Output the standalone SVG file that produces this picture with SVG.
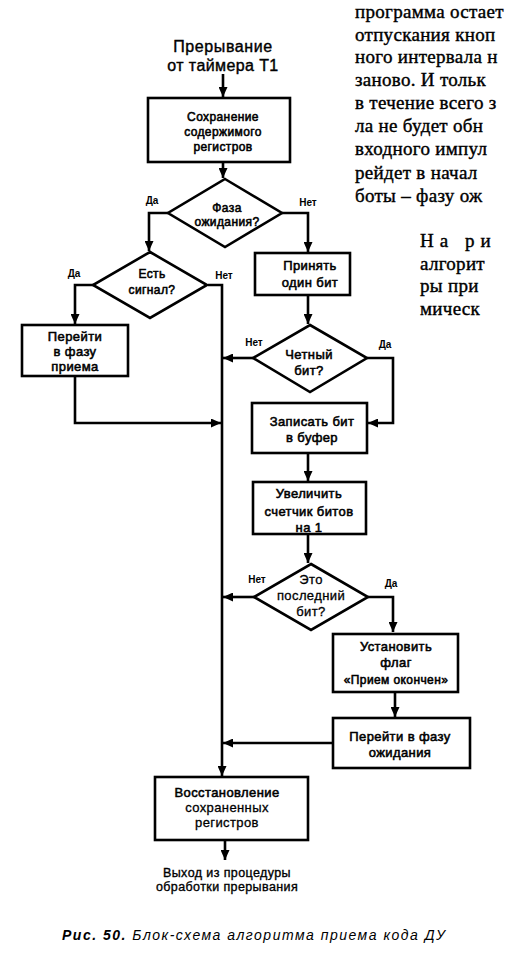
<svg xmlns="http://www.w3.org/2000/svg" width="507" height="969" viewBox="0 0 507 969">
<defs>
<style>
.bx{fill:#fff;stroke:#000;stroke-width:2.6}
.ln{fill:none;stroke:#000;stroke-width:2.6}
.t{font-family:"Liberation Sans",Arial,sans-serif;font-size:13px;font-weight:normal;text-anchor:middle;fill:#000;stroke:#000;stroke-width:0.55;letter-spacing:0.4px}
.s{font-family:"Liberation Sans",Arial,sans-serif;font-size:10px;font-weight:bold;text-anchor:middle;fill:#000}
.p{font-family:"Liberation Serif","Times New Roman",serif;font-size:19px;fill:#000;stroke:#000;stroke-width:0.4;letter-spacing:0.3px}
</style>
<marker id="ah" markerUnits="userSpaceOnUse" markerWidth="10" markerHeight="9" refX="10" refY="4.5" orient="auto">
<path d="M0,0 L10,4.5 L0,9 z" fill="#000"/>
</marker>
</defs>
<rect width="507" height="969" fill="#fff"/>

<g id="book-text">
<text class="p" x="355" y="18">программа остает</text>
<text class="p" x="355" y="41">отпускания кноп</text>
<text class="p" x="355" y="63">ного интервала н</text>
<text class="p" x="355" y="86">заново. И тольк</text>
<text class="p" x="355" y="109">в течение всего з</text>
<text class="p" x="355" y="132">ла не будет обн</text>
<text class="p" x="355" y="155">входного импул</text>
<text class="p" x="355" y="179">рейдет в начал</text>
<text class="p" x="355" y="202">боты – фазу ож</text>
<text class="p" x="420" y="247" style="letter-spacing:6px">На ри</text>
<text class="p" x="420" y="270">алгорит</text>
<text class="p" x="420" y="292">ры при</text>
<text class="p" x="420" y="315">мическ</text>
</g>

<g id="connectors">
<path class="ln" d="M223,74 V97" marker-end="url(#ah)"/>
<path class="ln" d="M223,162 V178" marker-end="url(#ah)"/>
<path class="ln" d="M168,213 H149 V251" marker-end="url(#ah)"/>
<path class="ln" d="M282,213 H308 V252" marker-end="url(#ah)"/>
<path class="ln" d="M95,285 H75 V324" marker-end="url(#ah)"/>
<path class="ln" d="M208,285 H222 V776" marker-end="url(#ah)"/>
<path class="ln" d="M75,376 V423 H221" marker-end="url(#ah)"/>
<path class="ln" d="M308,295 V324" marker-end="url(#ah)"/>
<path class="ln" d="M253,358 H223" marker-end="url(#ah)"/>
<path class="ln" d="M367,358 H393 V423 H368" marker-end="url(#ah)"/>
<path class="ln" d="M308,453 V481" marker-end="url(#ah)"/>
<path class="ln" d="M308,534 V563" marker-end="url(#ah)"/>
<path class="ln" d="M254,597 H223" marker-end="url(#ah)"/>
<path class="ln" d="M368,597 H393 V632" marker-end="url(#ah)"/>
<path class="ln" d="M395,692 V717" marker-end="url(#ah)"/>
<path class="ln" d="M333,743 H223" marker-end="url(#ah)"/>
<path class="ln" d="M225,840 V860" marker-end="url(#ah)"/>
<text class="s" x="152" y="204">Да</text>
<text class="s" x="308" y="206">Нет</text>
<text class="s" x="74" y="277">Да</text>
<text class="s" x="224" y="279">Нет</text>
<text class="s" x="254" y="346">Нет</text>
<text class="s" x="385" y="348">Да</text>
<text class="s" x="257" y="583">Нет</text>
<text class="s" x="391" y="587">Да</text>
</g>

<g id="start">
<text class="t" x="223" y="52" style="font-size:16px;stroke-width:0.4;letter-spacing:0.6px">Прерывание</text>
<text class="t" x="223" y="71" style="font-size:16px;stroke-width:0.4;letter-spacing:0.4px">от таймера Т1</text>
</g>

<g id="save">
<rect class="bx" x="148" y="98" width="142" height="64"/>
<text class="t" x="223" y="121" style="font-size:12px">Сохранение</text>
<text class="t" x="223" y="136" style="font-size:12px">содержимого</text>
<text class="t" x="223" y="151" style="font-size:12px">регистров</text>
</g>

<g id="wait-phase">
<polygon class="bx" points="225,179 282,213 225,247 168,213"/>
<text class="t" x="227" y="212" style="font-size:12px">Фаза</text>
<text class="t" x="227" y="226" style="font-size:12px">ожидания?</text>
</g>

<g id="signal">
<polygon class="bx" points="150,252 207,285 150,318 93,285"/>
<text class="t" x="152" y="278" style="font-size:12px">Есть</text>
<text class="t" x="152" y="294" style="font-size:12px">сигнал?</text>
</g>

<g id="to-receive">
<rect class="bx" x="22" y="325" width="106" height="51"/>
<text class="t" x="75" y="341">Перейти</text>
<text class="t" x="75" y="356">в фазу</text>
<text class="t" x="75" y="371">приема</text>
</g>

<g id="take-bit">
<rect class="bx" x="255" y="253" width="95" height="42"/>
<text class="t" x="310" y="270">Принять</text>
<text class="t" x="310" y="287">один бит</text>
</g>

<g id="even-bit">
<polygon class="bx" points="310,325 367,358 310,392 253,358"/>
<text class="t" x="309" y="359">Четный</text>
<text class="t" x="309" y="375">бит?</text>
</g>

<g id="write-bit">
<rect class="bx" x="252" y="403" width="115" height="50"/>
<text class="t" x="312" y="426">Записать бит</text>
<text class="t" x="312" y="442">в буфер</text>
</g>

<g id="inc-counter">
<rect class="bx" x="253" y="482" width="113" height="52"/>
<text class="t" x="309" y="498">Увеличить</text>
<text class="t" x="309" y="516">счетчик битов</text>
<text class="t" x="309" y="532">на 1</text>
</g>

<g id="last-bit">
<polygon class="bx" points="311,564 368,597 311,630 254,597"/>
<text class="t" x="311" y="584" style="stroke-width:0.3">Это</text>
<text class="t" x="311" y="600" style="stroke-width:0.3">последний</text>
<text class="t" x="311" y="616" style="stroke-width:0.3">бит?</text>
</g>

<g id="set-flag">
<rect class="bx" x="333" y="634" width="125" height="58"/>
<text class="t" x="396" y="651">Установить</text>
<text class="t" x="396" y="667">флаг</text>
<text class="t" x="396" y="684" style="font-size:12px">«Прием окончен»</text>
</g>

<g id="to-wait">
<rect class="bx" x="333" y="718" width="137" height="50"/>
<text class="t" x="400" y="741">Перейти в фазу</text>
<text class="t" x="400" y="757">ожидания</text>
</g>

<g id="restore">
<rect class="bx" x="155" y="777" width="153" height="63"/>
<text class="t" x="227" y="797">Восстановление</text>
<text class="t" x="227" y="812" style="stroke-width:0.3">сохраненных</text>
<text class="t" x="227" y="827" style="stroke-width:0.3">регистров</text>
</g>

<g id="exit">
<text class="t" x="227" y="877" style="font-size:12.5px;stroke-width:0.35">Выход из процедуры</text>
<text class="t" x="227" y="891" style="font-size:12.5px;stroke-width:0.35">обработки прерывания</text>
</g>

<g id="caption">
<text x="62" y="940" textLength="383" lengthAdjust="spacing" style="font-family:'Liberation Sans',Arial,sans-serif;font-size:14px;font-style:italic;fill:#000"><tspan font-weight="bold">Рис. 50.</tspan> Блок-схема алгоритма приема кода ДУ</text>
</g>
</svg>
